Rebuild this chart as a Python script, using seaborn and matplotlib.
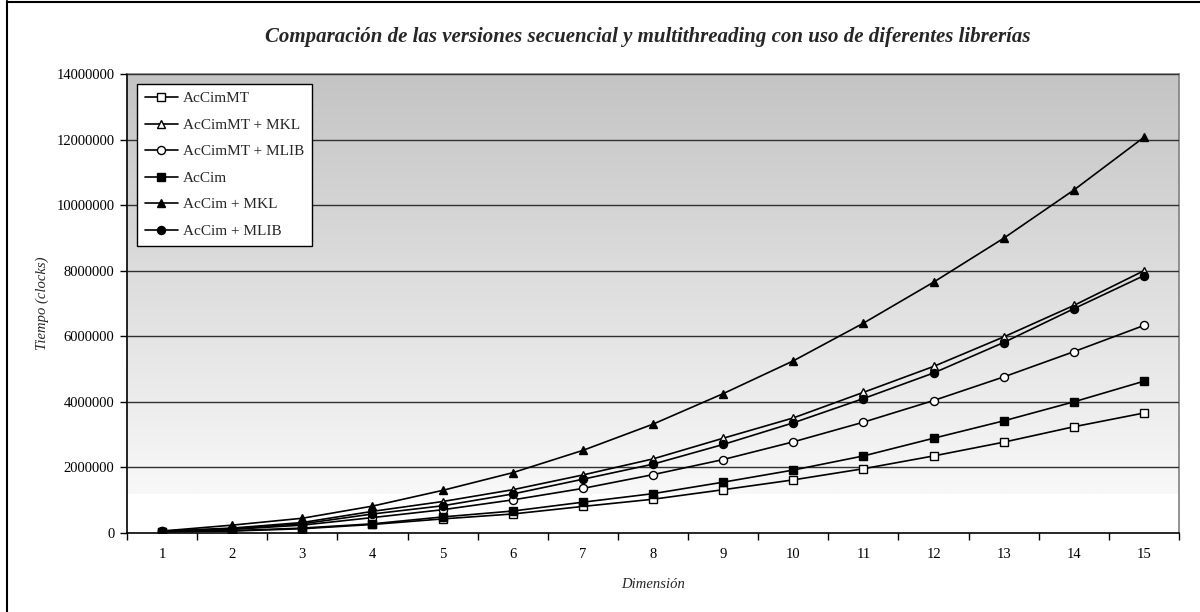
import numpy as np
import pandas as pd
import matplotlib
matplotlib.use("Agg")
import matplotlib.pyplot as plt
import seaborn as sns
from matplotlib.lines import Line2D
from matplotlib.colors import LinearSegmentedColormap

sns.set_theme(style="white")
plt.rcParams['font.family'] = ['Liberation Serif', 'DejaVu Serif']

dimension = list(range(1, 16))
accimmt = [40000, 60000, 130000, 260000, 430000, 580000, 810000, 1030000, 1320000,
            1620000, 1960000, 2350000, 2770000, 3240000, 3660000]
accimmt_mkl = [60000, 150000, 320000, 660000, 960000, 1320000, 1770000, 2260000, 2890000,
               3510000, 4290000, 5080000, 5980000, 6940000, 8000000]
accimmt_mlib = [50000, 110000, 240000, 470000, 710000, 1010000, 1360000, 1780000, 2240000,
                2780000, 3380000, 4040000, 4760000, 5530000, 6330000]
accim = [40000, 70000, 150000, 280000, 490000, 670000, 940000, 1200000, 1550000,
         1920000, 2350000, 2890000, 3420000, 4000000, 4630000]
accim_mkl = [60000, 240000, 450000, 820000, 1300000, 1840000, 2520000, 3320000, 4250000,
             5250000, 6400000, 7650000, 8990000, 10460000, 12070000]
accim_mlib = [50000, 130000, 280000, 580000, 830000, 1190000, 1640000, 2100000, 2700000,
              3360000, 4100000, 4880000, 5810000, 6840000, 7850000]

series = [
    ("AcCimMT", accimmt, "s", "white"),
    ("AcCimMT + MKL", accimmt_mkl, "^", "white"),
    ("AcCimMT + MLIB", accimmt_mlib, "o", "white"),
    ("AcCim", accim, "s", "black"),
    ("AcCim + MKL", accim_mkl, "^", "black"),
    ("AcCim + MLIB", accim_mlib, "o", "black"),
]
y_ticks = list(range(0, 14000001, 2000000))

fig = plt.figure(figsize=(12, 6.12), dpi=100)
ax = fig.add_axes([127/1200, 1 - 533/612, (1179-127)/1200, (533-74)/612])

# gradient background
grad = np.linspace(0, 1, 256).reshape(-1, 1)
cmap = LinearSegmentedColormap.from_list("g", ["#c4c4c4", "#f8f8f8"])
ax.imshow(grad, cmap=cmap, aspect='auto', extent=(0.5, 15.5, 1200000, 14000000),
          origin='upper', zorder=0, interpolation='bilinear')

for name, vals, mk, fc in series:
    df = pd.DataFrame({"Dimensión": dimension, "Tiempo": vals})
    sns.lineplot(data=df, x="Dimensión", y="Tiempo", ax=ax, color="black", linewidth=1.2,
                 marker=mk, markersize=5.8, markerfacecolor=fc, markeredgecolor="black",
                 markeredgewidth=1.0, label=name, zorder=3)

ax.set_xlim(0.5, 15.5)
ax.set_ylim(0, 14000000)
ax.set_yticks(y_ticks)
ax.set_yticklabels([str(v) for v in y_ticks])
ax.set_xticks(dimension)
ax.set_xticklabels([str(d) for d in dimension])
ax.set_xticks(np.arange(0.5, 15.6, 1.0), minor=True)
ax.tick_params(axis='x', which='major', length=0, labelsize=10.5, pad=11, colors='black')
ax.tick_params(axis='x', which='minor', length=5, width=1, direction='out', color='black', bottom=True)
ax.tick_params(axis='y', which='major', length=5, width=1, direction='out', labelsize=10.5,
               left=True, pad=4, colors='black')
ax.yaxis.grid(True, color='#303030', linewidth=1.0, zorder=1)
ax.xaxis.grid(False)
ax.set_axisbelow(False)
for g in ax.get_ygridlines():
    g.set_zorder(1)

for s in ['left', 'bottom']:
    ax.spines[s].set_color('black')
    ax.spines[s].set_linewidth(1.2)
for s in ['top', 'right']:
    ax.spines[s].set_color('#808080')
    ax.spines[s].set_linewidth(1.2)

ax.set_xlabel("Dimensión", fontsize=10.5, style='italic', labelpad=12)
ax.set_ylabel("Tiempo (clocks)", fontsize=10.5, style='italic', labelpad=5)

leg = ax.legend(loc='upper left', bbox_to_anchor=(10/1052, 1 - 10/459), fontsize=11,
                frameon=True, fancybox=False, edgecolor='black', framealpha=1,
                handlelength=2.2, handletextpad=0.3, labelspacing=0.84, borderpad=0.5,
                borderaxespad=0)
leg.get_frame().set_linewidth(1.0)

fig.text(648/1200, 1 - 37/612,
         "Comparación de las versiones secuencial y multithreading con uso de diferentes librerías",
         ha='center', va='center', fontsize=15, fontweight='bold', style='italic')

# figure border (left and top visible)
fig.add_artist(Line2D([7/1200, 7/1200], [0, 1 - 1/612], transform=fig.transFigure, color='black', linewidth=1.5))
fig.add_artist(Line2D([7/1200, 1], [1 - 1.5/612, 1 - 1.5/612], transform=fig.transFigure, color='black', linewidth=1.5))

fig.savefig("out.png", dpi=100)
